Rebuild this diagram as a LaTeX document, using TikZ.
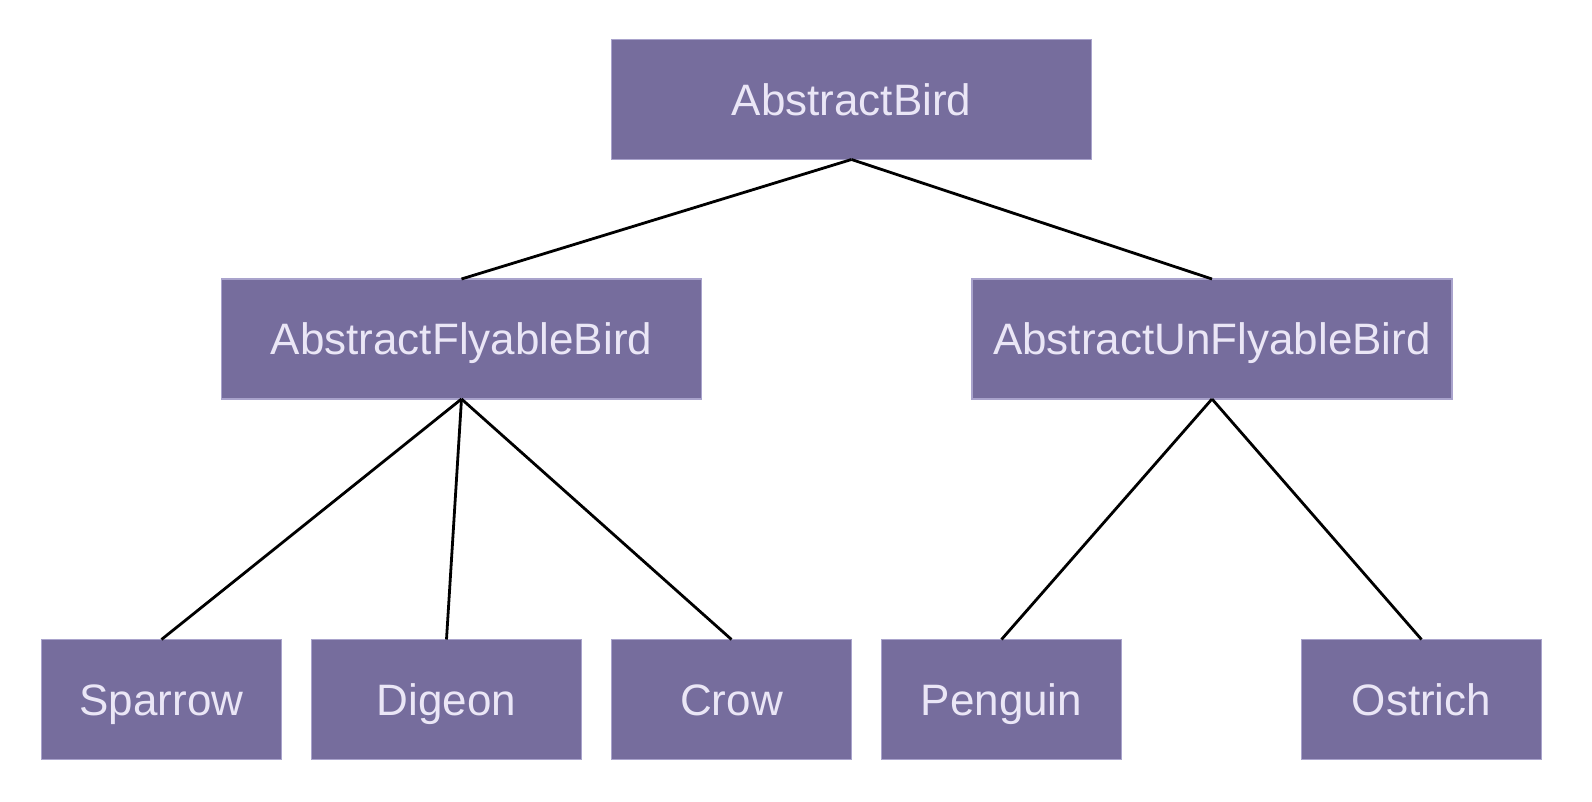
\documentclass[tikz,border=0pt]{standalone}
\usepackage{fontspec}
\setmainfont{Liberation Sans}
\usepackage{xcolor}
\usetikzlibrary{positioning}
\definecolor{birdfill}{HTML}{766D9D}
\definecolor{birdedge}{HTML}{A9A3CC}
\definecolor{birdtext}{HTML}{EAE6F6}

\begin{document}
\begin{tikzpicture}[
  x=0.5pt, y=-0.5pt,
  font=\fontsize{22}{26}\selectfont,
  cls/.style={draw=birdedge, fill=birdfill, text=birdtext, line width=0.6pt, inner sep=0pt, outer sep=0pt,
    text height=16pt, text depth=0pt, minimum height=60pt},
  wide/.style={cls, minimum width=240pt},
  leaf/.style={cls, minimum width=120pt},
  link/.style={draw=black, line width=1.4pt}
]
\useasboundingbox[fill=white] (0,0) rectangle (1592,802);

\node[wide] (bird) at (851.5,99.5) {AbstractBird};
\node[wide] (fly) at (461.5,339) {AbstractFlyableBird};
\node[wide] (unfly) at (1212,339) {AbstractUnFlyableBird};
\node[leaf] (sparrow) at (161.5,699.5) {Sparrow};
\node[leaf, minimum width=135pt, right=15pt of sparrow] (digeon) {Digeon};
\node[leaf, right=15pt of digeon] (crow) {Crow};
\node[leaf, right=15pt of crow] (penguin) {Penguin};
\node[leaf] (ostrich) at (1421.5,699.5) {Ostrich};

\draw[link] (bird.south) -- (fly.north);
\draw[link] (bird.south) -- (unfly.north);
\draw[link] (fly.south) -- (sparrow.north);
\draw[link] (fly.south) -- (digeon.north);
\draw[link] (fly.south) -- (crow.north);
\draw[link] (unfly.south) -- (penguin.north);
\draw[link] (unfly.south) -- (ostrich.north);
\end{tikzpicture}
\end{document}
